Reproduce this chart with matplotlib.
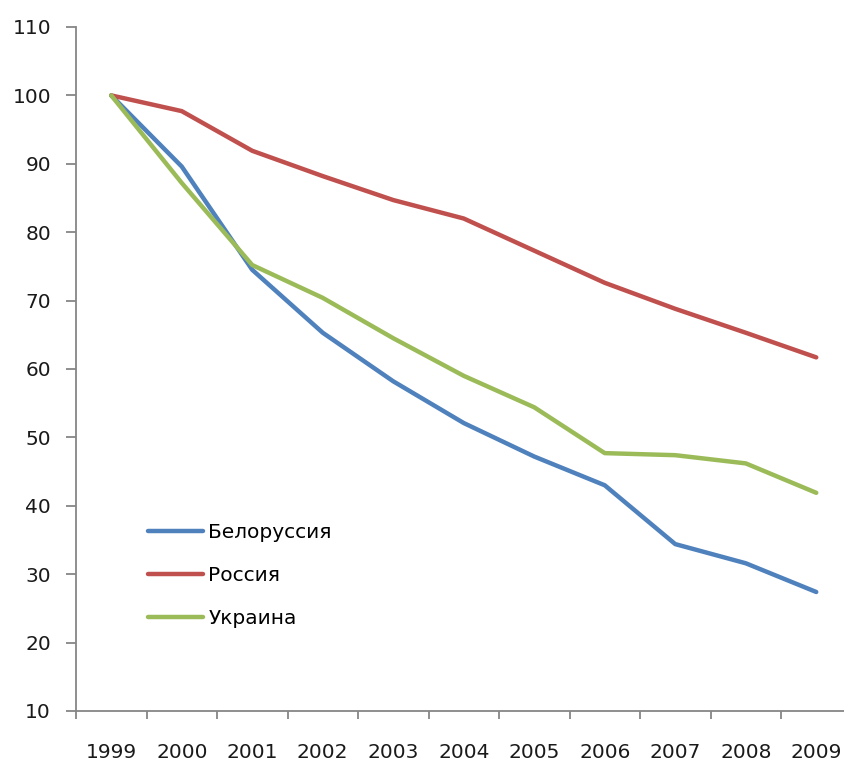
import numpy as np
import matplotlib
matplotlib.use("Agg")
import matplotlib.pyplot as plt
from matplotlib.ticker import FixedLocator, NullFormatter

# Index values, 1999 = 100
years = ["1999", "2000", "2001", "2002", "2003", "2004",
         "2005", "2006", "2007", "2008", "2009"]
belarus = [100, 89.6, 74.5, 65.3, 58.2, 52.1, 47.2, 43.0, 34.4, 31.6, 27.4]
russia = [100, 97.7, 91.9, 88.2, 84.7, 82.0, 77.3, 72.6, 68.8, 65.3, 61.7]
ukraine = [100, 87.2, 75.2, 70.4, 64.5, 59.0, 54.4, 47.7, 47.4, 46.2, 41.9]

labels = ["Белоруссия", "Россия", "Украина"]
colors = ["#4F81BD", "#C0504D", "#9BBB59"]

plt.rcParams["font.family"] = ["DejaVu Sans"]
fs = 14.5

fig = plt.figure(figsize=(8.44, 7.65), dpi=100)
ax = fig.add_axes([76 / 844, 54 / 765, 768 / 844, 684 / 765])

x = np.arange(len(years))
for series, lab, col in zip([belarus, russia, ukraine], labels, colors):
    ax.plot(x, series, color=col, lw=3.2, label=lab,
            solid_joinstyle="round", solid_capstyle="round")

ax.set_ylim(10, 110)
ax.set_yticks(np.arange(10, 111, 10))
ax.set_xlim(-0.5, -0.5 + 768 / 70.5)

# category boundaries carry the tick marks, labels sit at the centres
ax.xaxis.set_major_locator(FixedLocator(np.arange(-0.5, len(years) - 1, 1.0)))
ax.xaxis.set_major_formatter(NullFormatter())
ax.xaxis.set_minor_locator(FixedLocator(x))
ax.set_xticklabels(years, minor=True)

gray = "#868686"
for side in ["top", "right"]:
    ax.spines[side].set_visible(False)
for side in ["left", "bottom"]:
    ax.spines[side].set_color(gray)
    ax.spines[side].set_linewidth(1.3)

ax.tick_params(axis="x", which="major", length=6, width=1.3, color=gray, direction="out")
ax.tick_params(axis="x", which="minor", length=0, pad=23, labelsize=fs, labelcolor="#1a1a1a")
ax.tick_params(axis="y", length=7, width=1.3, color=gray, direction="out",
               pad=11, labelsize=fs, labelcolor="#1a1a1a")

ax.legend(loc="upper left", bbox_to_anchor=(148 / 844, 1 - 523 / 765),
          bbox_transform=fig.transFigure, frameon=False, fontsize=fs,
          handlelength=2.75, handletextpad=0.25, labelspacing=1.2,
          borderpad=0, borderaxespad=0)

fig.savefig("out.png", dpi=100)
